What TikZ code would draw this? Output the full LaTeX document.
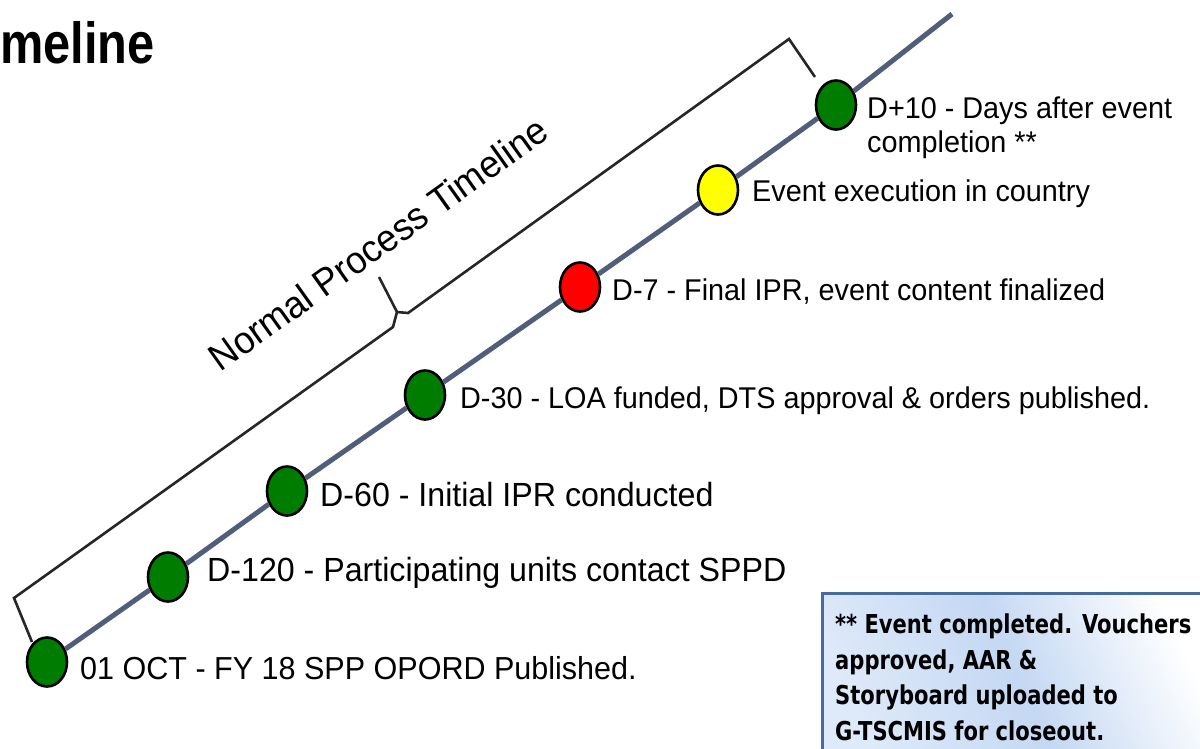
\documentclass[tikz,border=0pt]{standalone}
\usepackage{fontspec}
\setmainfont{Liberation Sans}[FakeStretch=0.96]
\newfontfamily\titlefont{Liberation Sans}[FakeStretch=0.84]
\newfontfamily\notefont{DejaVu Sans}[FakeStretch=0.81]
\usetikzlibrary{shapes.geometric}
\definecolor{evgreen}{RGB}{0,125,0}
\definecolor{evred}{RGB}{255,0,0}
\definecolor{evyellow}{RGB}{255,255,0}
\definecolor{tlline}{RGB}{80,94,122}
\definecolor{noteedge}{RGB}{70,108,155}
\definecolor{notelight}{RGB}{222,233,249}
\definecolor{notemid}{RGB}{196,216,243}
\begin{document}
\begin{tikzpicture}[x=1pt,y=-1pt,
  event/.style={ellipse, draw=black, line width=2.6pt, inner sep=0pt,
    minimum width=40pt, minimum height=49pt},
  lbl/.style={anchor=base west, inner sep=0pt, font=\fontsize{30}{34}\selectfont},
  biglbl/.style={lbl, font=\fontsize{33.5}{36}\selectfont},
  tl/.style={draw=tlline, line width=5pt},
  brace/.style={draw=black!85, line width=2.6pt, line join=miter}]
\useasboundingbox (0,0) rectangle (1200,748);
\clip (0,0) rectangle (1200,748);

% title, cut by the left edge
\node[anchor=base east, inner sep=0pt, font=\titlefont\bfseries\fontsize{58}{60}\selectfont]
  (title) at (155,63) {meline};

% the bracket spanning the process
\coordinate (bA) at (32,642);
\coordinate (bB) at (14,598);
\coordinate (bC) at (393,327);
\coordinate (bJ) at (397,312);
\coordinate (bD) at (408,313);
\coordinate (bE) at (789,39);
\coordinate (bF) at (815,77);
\coordinate (bT) at (379,277);
\draw[brace] (bA) -- (bB) -- (bC) -- (bJ) -- (bD) -- (bE) -- (bF);
\draw[brace] (bJ) -- (bT);
\node[rotate=35.5, inner sep=0pt, font=\fontsize{38}{40}\selectfont]
  (span) at (378,244) {Normal Process Timeline};

% milestones
\node[event, fill=evgreen]  (e1) at (47,662) {};
\node[event, fill=evgreen]  (e2) at (168,577) {};
\node[event, fill=evgreen]  (e3) at (287,491) {};
\node[event, fill=evgreen]  (e4) at (425,395) {};
\node[event, fill=evred]    (e5) at (580,287) {};
\node[event, fill=evyellow] (e6) at (718,190) {};
\node[event, fill=evgreen]  (e7) at (836,105) {};
\coordinate (tlend) at (952,14);
\draw[tl] (e1) -- (e2);
\draw[tl] (e2) -- (e3);
\draw[tl] (e3) -- (e4);
\draw[tl] (e4) -- (e5);
\draw[tl] (e5) -- (e6);
\draw[tl] (e6) -- (e7);
\draw[tl] (e7) -- (tlend);

\node[lbl, font=\fontsize{31.8}{34}\selectfont] (l1) at (80,679) {01 OCT - FY 18 SPP OPORD Published.};
\node[biglbl] (l2) at (207,581) {D-120 - Participating units contact SPPD};
\node[biglbl] (l3) at (320,506) {D-60 - Initial IPR conducted};
\node[lbl] (l4) at (460,408) {D-30 - LOA funded, DTS approval \& orders published.};
\node[lbl] (l5) at (612,300) {D-7 - Final IPR, event content finalized};
\node[lbl] (l6) at (752,201) {Event execution in country};
\node[lbl, align=left] (l7) at (867,152) {D+10 - Days after event\\completion **};

% footnote box
\shade[left color=notelight, right color=white, middle color=notemid, shading angle=115]
  (822,593) rectangle (1216,760);
\draw[noteedge, line width=3pt] (1216,593) -- (822,593) -- (822,760);
\node[anchor=north west, inner sep=0pt, align=left,
  font=\notefont\bfseries\fontsize{26}{35.5}\selectfont] (note) at (835,614)
  {** Event completed. Vouchers\\approved, AAR \&\\Storyboard uploaded to\\G-TSCMIS for closeout.};
\end{tikzpicture}
\end{document}
